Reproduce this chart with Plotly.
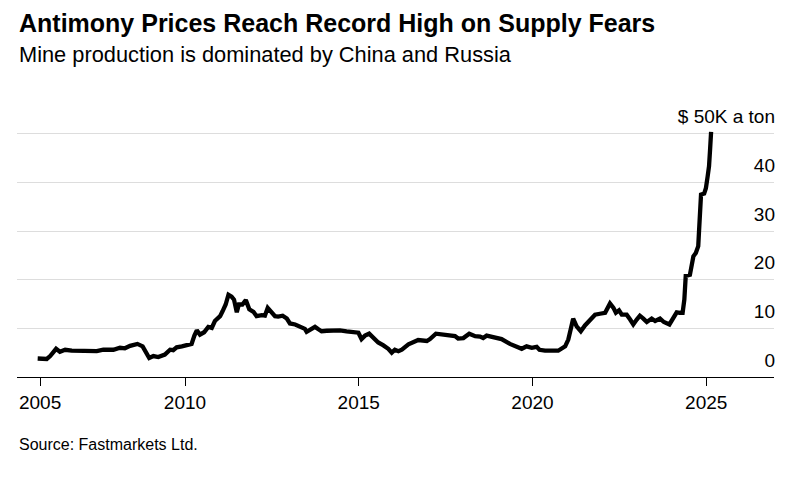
import plotly.graph_objects as go

# Antimony price, thousand US$ per ton, decimal years
years = [2005.76, 2006.02, 2006.12, 2006.29, 2006.40, 2006.55, 2006.74, 2007.17, 2007.46, 2007.65,
         2007.94, 2008.13, 2008.27, 2008.42, 2008.63, 2008.78, 2008.87, 2008.97, 2009.09, 2009.23,
         2009.42, 2009.57, 2009.66, 2009.76, 2009.91, 2010.05, 2010.19, 2010.27, 2010.34, 2010.43,
         2010.55, 2010.67, 2010.77, 2010.86, 2011.01, 2011.08, 2011.17, 2011.25, 2011.34, 2011.41,
         2011.49, 2011.55, 2011.65, 2011.75, 2011.85, 2011.97, 2012.06, 2012.21, 2012.30, 2012.38,
         2012.47, 2012.59, 2012.68, 2012.81, 2012.93, 2013.02, 2013.17, 2013.31, 2013.45, 2013.50,
         2013.65, 2013.74, 2013.84, 2013.93, 2014.08, 2014.27, 2014.46, 2014.65, 2014.84, 2014.99,
         2015.08, 2015.18, 2015.30, 2015.42, 2015.56, 2015.71, 2015.85, 2015.95, 2016.04, 2016.14,
         2016.24, 2016.43, 2016.71, 2016.96, 2017.05, 2017.22, 2017.48, 2017.77, 2017.86, 2018.01,
         2018.18, 2018.35, 2018.49, 2018.58, 2018.68, 2018.87, 2019.11, 2019.35, 2019.59, 2019.69,
         2019.83, 2019.98, 2020.12, 2020.20, 2020.36, 2020.55, 2020.74, 2020.94, 2021.03, 2021.11,
         2021.17, 2021.27, 2021.39, 2021.51, 2021.65, 2021.80, 2021.94, 2022.09, 2022.23, 2022.33,
         2022.40, 2022.49, 2022.57, 2022.71, 2022.81, 2022.90, 2023.00, 2023.09, 2023.19, 2023.29,
         2023.43, 2023.53, 2023.67, 2023.78, 2023.94, 2024.05, 2024.15, 2024.24, 2024.32, 2024.37,
         2024.41, 2024.53, 2024.58, 2024.63, 2024.70, 2024.77, 2024.79, 2024.82, 2024.85, 2024.94,
         2024.99, 2025.04, 2025.08, 2025.11, 2025.14]

prices = [3.8, 3.7, 4.3, 5.8, 5.2, 5.6, 5.4, 5.4, 5.3, 5.6,
          5.6, 6.0, 5.9, 6.4, 6.8, 6.3, 5.3, 3.9, 4.3, 4.1,
          4.6, 5.6, 5.5, 6.1, 6.3, 6.5, 6.8, 8.5, 9.6, 8.7,
          9.2, 10.3, 10.1, 11.5, 12.5, 13.5, 14.9, 16.9, 16.5, 15.9,
          13.3, 14.9, 14.9, 15.8, 13.9, 13.4, 12.5, 12.7, 12.6, 14.2,
          13.5, 12.5, 12.4, 12.6, 12.0, 11.0, 10.8, 10.4, 9.9, 9.3,
          10.0, 10.3, 9.8, 9.4, 9.5, 9.6, 9.6, 9.4, 9.3, 9.1,
          7.8, 8.5, 8.9, 8.0, 7.1, 6.5, 5.8, 5.0, 5.6, 5.3,
          5.6, 6.7, 7.6, 7.4, 7.8, 8.9, 8.7, 8.4, 7.9, 8.0,
          8.9, 8.4, 8.3, 8.0, 8.5, 8.2, 7.8, 6.8, 6.0, 5.8,
          6.3, 6.0, 6.2, 5.6, 5.4, 5.3, 5.4, 6.3, 7.7, 10.1,
          12.0, 10.4, 9.4, 10.6, 11.8, 12.8, 13.0, 13.2, 15.1, 14.2,
          13.2, 13.7, 12.8, 12.8, 11.8, 10.8, 11.8, 12.6, 12.0, 11.3,
          12.0, 11.5, 12.0, 11.3, 10.8, 12.2, 13.3, 13.2, 13.2, 15.9,
          20.8, 21.0, 22.7, 24.8, 25.5, 26.9, 29.6, 34.4, 37.5, 37.7,
          38.8, 41.2, 43.3, 46.7, 50.4]

x_tickvals = [2005.83, 2010, 2015, 2020, 2025]
x_ticktext = ["2005", "2010", "2015", "2020", "2025"]
y_tickvals = [0, 10, 20, 30, 40, 50]
y_ticktext = ["0", "10", "20", "30", "40", "$ 50K a ton"]

title = "Antimony Prices Reach Record High on Supply Fears"
subtitle = "Mine production is dominated by China and Russia"
source = "Source: Fastmarkets Ltd."

FONT = "Liberation Sans, Arial, Helvetica, sans-serif"

fig = go.Figure()
fig.add_trace(go.Scatter(x=years, y=prices, mode="lines",
                         line=dict(color="#000000", width=4.3), hoverinfo="skip",
                         showlegend=False))

# the page body adds an 8px offset; margins compensate for it
fig.update_layout(
    width=804, height=479,
    margin=dict(l=9, r=38, t=115, b=110, autoexpand=False),
    paper_bgcolor="white", plot_bgcolor="white",
    font=dict(family=FONT, color="#000000"),
    xaxis=dict(range=[2005.165, 2026.95], tickvals=x_tickvals, ticktext=x_ticktext,
               automargin=False,
               showgrid=False, zeroline=False, showline=True, linecolor="#000000",
               linewidth=1.3, ticks="outside", ticklen=8, tickwidth=1, tickcolor="#000000",
               tickfont=dict(size=19, color="#000000", family=FONT)),
    yaxis=dict(range=[0, 52.2], side="right", tickvals=y_tickvals, ticktext=y_ticktext,
               automargin=False,
               ticklabelposition="inside", ticklabelshift=-17, ticklabelstandoff=-4,
               ticklabeloverflow="allow",
               showgrid=True, gridcolor="#dddddd", gridwidth=1, zeroline=False,
               showline=False, ticks="",
               tickfont=dict(size=19, color="#000000", family=FONT)),
    annotations=[
        dict(text="<b>" + title + "</b>", xref="paper", yref="paper", x=0, y=1.394,
             xanchor="left", yanchor="middle", showarrow=False,
             font=dict(size=25, color="#000000", family=FONT)),
        dict(text=subtitle, xref="paper", yref="paper", x=0, y=1.268,
             xanchor="left", yanchor="middle", showarrow=False,
             font=dict(size=21.8, color="#000000", family=FONT)),
        dict(text=source, xref="paper", yref="paper", x=0, y=-0.264,
             xanchor="left", yanchor="middle", showarrow=False,
             font=dict(size=16, color="#000000", family=FONT)),
    ],
)

fig.write_html("out.html")
